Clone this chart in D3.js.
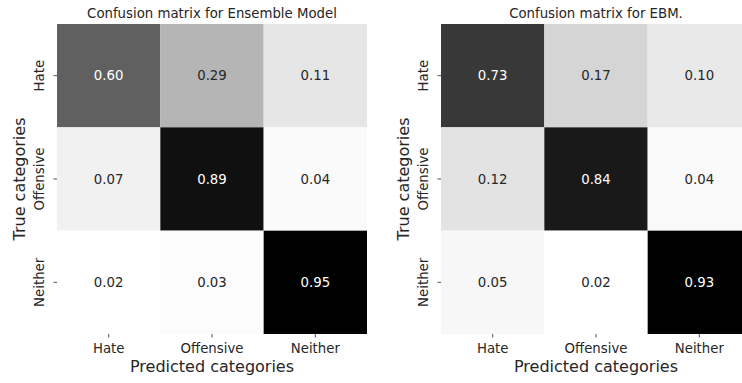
<!DOCTYPE html>
<html>
<head>
<meta charset="utf-8">
<script src="https://cdn.jsdelivr.net/npm/d3@7"></script>
<style>
  html, body { margin: 0; padding: 0; background: #fff; }
  svg { display: block; font-family: "DejaVu Sans", sans-serif; }
</style>
</head>
<body>
<svg id="chart" width="742" height="383"></svg>
<script>
// Class labels shared by both matrices
const categories = ["Hate", "Offensive", "Neither"];

// Row-normalised confusion matrices (rows = true, columns = predicted)
const ensembleValues = [
  [0.60, 0.29, 0.11],
  [0.07, 0.89, 0.04],
  [0.02, 0.03, 0.95]
];
const ebmValues = [
  [0.73, 0.17, 0.10],
  [0.12, 0.84, 0.04],
  [0.05, 0.02, 0.93]
];

const titles = ["Confusion matrix for Ensemble Model", "Confusion matrix for EBM."];
const xLabel = "Predicted categories";
const yLabel = "True categories";

const svg = d3.select("#chart");
const textColor = "#262626";

const panels = [
  { values: ensembleValues, title: titles[0], left: 57, top: 24, size: 310 },
  { values: ebmValues, title: titles[1], left: 441, top: 24, size: 310 }
];

panels.forEach(p => {
  const g = svg.append("g").attr("transform", `translate(${p.left},${p.top})`);
  const flat = p.values.flat();
  const color = d3.scaleLinear()
    .domain([d3.min(flat), d3.max(flat)])
    .range(["#ffffff", "#000000"])
    .interpolate(d3.interpolateRgb);

  const x = d3.scaleBand().domain(categories).range([0, p.size]);
  const y = d3.scaleBand().domain(categories).range([0, p.size]);

  const cells = [];
  p.values.forEach((row, i) => row.forEach((v, j) => cells.push({ r: categories[i], c: categories[j], v })));

  g.selectAll("rect.cell").data(cells).join("rect")
    .attr("class", "cell")
    .attr("x", d => x(d.c))
    .attr("y", d => y(d.r))
    .attr("width", x.bandwidth())
    .attr("height", y.bandwidth())
    .attr("fill", d => color(d.v));

  g.selectAll("text.annot").data(cells).join("text")
    .attr("class", "annot")
    .attr("x", d => x(d.c) + x.bandwidth() / 2)
    .attr("y", d => y(d.r) + y.bandwidth() / 2)
    .attr("text-anchor", "middle")
    .attr("dominant-baseline", "central")
    .attr("font-size", "13.3px")
    .attr("fill", d => {
      const c = d3.rgb(color(d.v));
      const lum = (0.2126 * c.r + 0.7152 * c.g + 0.0722 * c.b) / 255;
      return lum > 0.408 ? textColor : "#ffffff";
    })
    .text(d => d.v.toFixed(2));

  // Bottom axis: predicted classes
  const xAxis = g.append("g")
    .attr("transform", `translate(0,${p.size})`)
    .call(d3.axisBottom(x).tickSize(3.5).tickPadding(6.5));
  xAxis.select(".domain").remove();
  xAxis.selectAll("line").attr("stroke", textColor).attr("stroke-width", 0.8);
  xAxis.selectAll("text")
    .attr("font-size", "13.3px")
    .attr("font-family", "DejaVu Sans, sans-serif")
    .attr("fill", textColor);

  // Left axis: true classes, labels rotated vertically
  const yAxis = g.append("g").call(d3.axisLeft(y).tickSize(3.5).tickPadding(0));
  yAxis.select(".domain").remove();
  yAxis.selectAll("line").attr("stroke", textColor).attr("stroke-width", 0.8);
  yAxis.selectAll("text")
    .attr("font-size", "13.3px")
    .attr("font-family", "DejaVu Sans, sans-serif")
    .attr("fill", textColor)
    .attr("text-anchor", "middle")
    .attr("dominant-baseline", "auto")
    .attr("x", 0).attr("dy", null)
    .attr("transform", "translate(-13.5,0) rotate(-90)");

  g.append("text")
    .attr("x", p.size / 2)
    .attr("y", -6)
    .attr("text-anchor", "middle")
    .attr("font-size", "13.3px")
    .attr("fill", textColor)
    .text(p.title);

  g.append("text")
    .attr("x", p.size / 2)
    .attr("y", p.size + 38)
    .attr("text-anchor", "middle")
    .attr("font-size", "16px")
    .attr("fill", textColor)
    .text(xLabel);

  g.append("text")
    .attr("transform", `translate(-32,${p.size / 2}) rotate(-90)`)
    .attr("text-anchor", "middle")
    .attr("font-size", "16px")
    .attr("fill", textColor)
    .text(yLabel);
});
</script>
</body>
</html>
